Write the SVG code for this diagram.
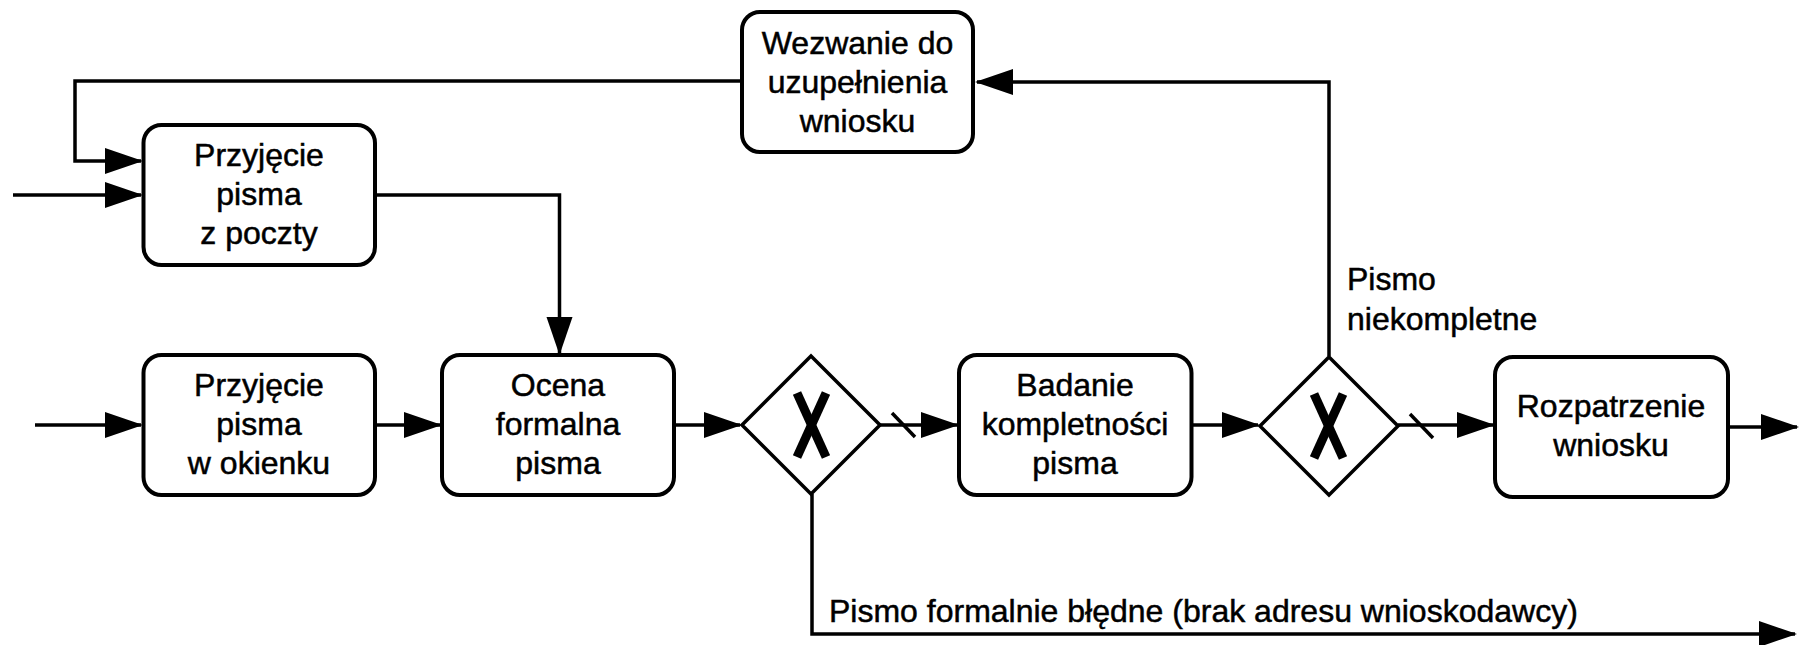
<svg xmlns="http://www.w3.org/2000/svg" width="1800" height="645" viewBox="0 0 1800 645">
<style>
.box{fill:#fff;stroke:#000;stroke-width:4}
.gw{fill:#fff;stroke:#000;stroke-width:3.5}
.xm{stroke:#000;stroke-width:9;fill:none}
.ln{fill:none;stroke:#000;stroke-width:3.5}
.t{font-family:"Liberation Sans",Arial,Helvetica,sans-serif;font-size:32px;fill:#000;stroke:#000;stroke-width:0.5}
.c{text-anchor:middle}
</style>
<defs>
<marker id="arr" markerUnits="userSpaceOnUse" markerWidth="40" markerHeight="28" refX="36" refY="13" orient="auto">
<path d="M0,0 L38,13 L0,26 z" fill="#000"/>
</marker>
</defs>
<rect width="1800" height="645" fill="#fff"/>
<g id="connectors">
<path class="ln" d="M13,195 H141" marker-end="url(#arr)"/>
<path class="ln" d="M35,425 H141" marker-end="url(#arr)"/>
<path class="ln" d="M375,195 H559.5 V353" marker-end="url(#arr)"/>
<path class="ln" d="M375,425 H440" marker-end="url(#arr)"/>
<path class="ln" d="M674,425 H740" marker-end="url(#arr)"/>
<path class="ln" d="M880,425 H957" marker-end="url(#arr)"/>
<line class="ln" x1="892" y1="413" x2="915" y2="437"/>
<path class="ln" d="M1191.5,425 H1258" marker-end="url(#arr)"/>
<path class="ln" d="M1398,425 H1493" marker-end="url(#arr)"/>
<line class="ln" x1="1410" y1="414" x2="1433" y2="438"/>
<path class="ln" d="M1728,427 H1797" marker-end="url(#arr)"/>
<path class="ln" d="M812,494 V634 H1795" marker-end="url(#arr)"/>
<path class="ln" d="M1329,356 V82 H977" marker-end="url(#arr)"/>
<path class="ln" d="M742,81 H75 V161 H141" marker-end="url(#arr)"/>
<text class="t" x="1347" y="290">Pismo</text>
<text class="t" x="1347" y="330">niekompletne</text>
<text class="t" x="829" y="622">Pismo formalnie błędne (brak adresu wnioskodawcy)</text>
</g>
<g id="n-poczta">
<rect class="box" x="143.5" y="125" width="231.5" height="140" rx="18"/>
<text class="t c" x="259" y="166">Przyjęcie</text>
<text class="t c" x="259" y="205">pisma</text>
<text class="t c" x="259" y="244">z poczty</text>
</g>
<g id="n-okienko">
<rect class="box" x="143.5" y="355" width="231.5" height="140" rx="18"/>
<text class="t c" x="259" y="396">Przyjęcie</text>
<text class="t c" x="259" y="435">pisma</text>
<text class="t c" x="259" y="474">w okienku</text>
</g>
<g id="n-ocena">
<rect class="box" x="442" y="355" width="232" height="140" rx="18"/>
<text class="t c" x="558" y="396">Ocena</text>
<text class="t c" x="558" y="435">formalna</text>
<text class="t c" x="558" y="474">pisma</text>
</g>
<g id="g-1">
<polygon class="gw" points="742,425 811,356 880,425 811,494"/>
<line class="xm" x1="797" y1="393" x2="826" y2="457"/>
<line class="xm" x1="826" y1="393" x2="797" y2="457"/>
</g>
<g id="n-badanie">
<rect class="box" x="959" y="355" width="232.5" height="140" rx="18"/>
<text class="t c" x="1075" y="396">Badanie</text>
<text class="t c" x="1075" y="435">kompletności</text>
<text class="t c" x="1075" y="474">pisma</text>
</g>
<g id="g-2">
<polygon class="gw" points="1260,426 1329,357 1398,426 1329,495"/>
<line class="xm" x1="1314" y1="394" x2="1343" y2="458"/>
<line class="xm" x1="1343" y1="394" x2="1314" y2="458"/>
</g>
<g id="n-rozpatrzenie">
<rect class="box" x="1495" y="357" width="233" height="140" rx="18"/>
<text class="t c" x="1611" y="417">Rozpatrzenie</text>
<text class="t c" x="1611" y="456">wniosku</text>
</g>
<g id="n-wezwanie">
<rect class="box" x="742" y="12" width="231" height="140" rx="18"/>
<text class="t c" x="857.5" y="54">Wezwanie do</text>
<text class="t c" x="857.5" y="93">uzupełnienia</text>
<text class="t c" x="857.5" y="132">wniosku</text>
</g>
</svg>
